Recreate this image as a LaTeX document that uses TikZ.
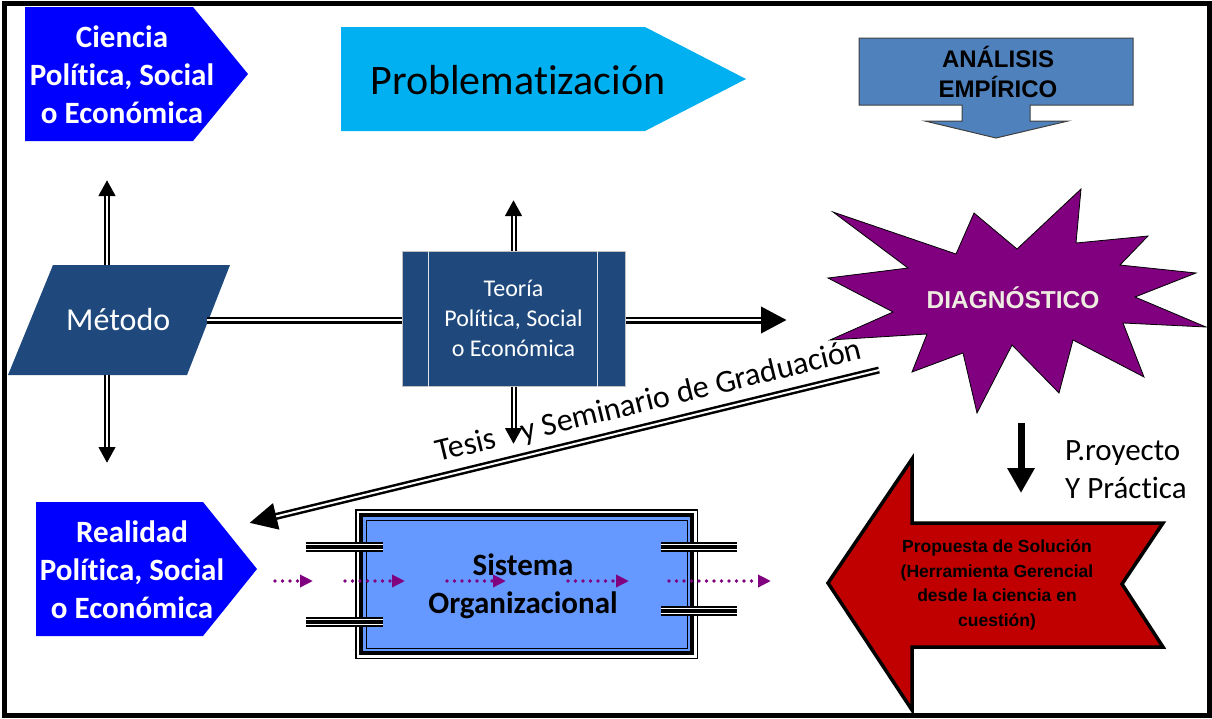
\documentclass[tikz,border=0pt]{standalone}
\usepackage{fontspec}
\setmainfont{Carlito}[Ligatures=NoCommon]
\newfontfamily\arialf{Liberation Sans}
\usetikzlibrary{arrows.meta,calc}

\definecolor{sciblue}{HTML}{0000FF}
\definecolor{probblue}{HTML}{00B0F0}
\definecolor{empblue}{HTML}{4F81BD}
\definecolor{navy}{HTML}{1F497D}
\definecolor{diagpurple}{HTML}{800080}
\definecolor{diagtext}{HTML}{EEECE1}
\definecolor{solred}{HTML}{C00000}
\definecolor{orgblue}{HTML}{6699FF}

\tikzset{
  txt/.style={inner sep=0pt, align=center},
  dblarrow/.style n args={4}{draw=black, line width=#1,
    -{Triangle[length=#3,width=#4]},
    postaction={draw=white, line width=#2, -, shorten >=#3}},
  dblline/.style={draw=black, line width=7pt, postaction={draw=white, line width=2pt}},
  pipe/.style={draw=black, line width=10pt,
    postaction={draw=white, line width=6.4pt},
    postaction={draw=black, line width=3.2pt}},
  flow/.style={draw=diagpurple, line width=3.8pt, line cap=round,
    dash pattern=on 0pt off 7.5pt,
    -{Triangle[length=13pt,width=12pt,fill=diagpurple]}},
}

\begin{document}
\begin{tikzpicture}[x=1pt,y=-1pt]
\useasboundingbox (0,0) rectangle (1212,718);

% outer frame
\draw[line width=4.5pt] (4.5,3.5) rectangle (1209.5,715.5);

% ---- shapes ----
% Ciencia (pentagon)
\fill[sciblue] (25,7) -- (193,7) -- (248,74) -- (193,141) -- (25,141) -- cycle;
% Problematizacion
\fill[probblue] (341,27) -- (645,27) -- (746,79) -- (645,131) -- (341,131) -- cycle;
% Analisis empirico (down arrow callout)
\filldraw[fill=empblue, draw=black!75, line width=1pt]
  (859,38) -- (1133,38) -- (1133,105) -- (1030,105) -- (1030,121) -- (1068,121)
  -- (996,138) -- (925,121) -- (962,121) -- (962,105) -- (859,105) -- cycle;
% Metodo (parallelogram)
\fill[navy] (53,265) -- (230,265) -- (187,375) -- (8,375) -- cycle;
% Teoria (predefined process box)
\node[draw=black!25, line width=1pt, fill=navy, minimum width=223pt, minimum height=135pt, inner sep=0pt]
  (teoria) at (513.5,318.5) {};
\draw[white!85!navy, line width=1pt] ($(teoria.north west)+(27,0)$) -- ($(teoria.south west)+(27,0)$);
\draw[white!85!navy, line width=1pt] ($(teoria.north east)+(-28,0)$) -- ($(teoria.south east)+(-28,0)$);
% Diagnostico (star burst)
\filldraw[fill=diagpurple, draw=black, line width=0.8pt]
  (833,212) -- (956,254) -- (974,213) -- (1017,249) -- (1081,189) -- (1076,243)
  -- (1148,236) -- (1120,265) -- (1196,273) -- (1135,297) -- (1206,327) -- (1123,323)
  -- (1144,377) -- (1073,340) -- (1059,393) -- (1012,345) -- (977,413) -- (963,353)
  -- (912,372) -- (927,334) -- (830,340) -- (893,312) -- (828,278) -- (908,268) -- cycle;
% Realidad (pentagon)
\fill[sciblue] (36,502) -- (203,502) -- (257,569) -- (203,636) -- (36,636) -- cycle;
% Propuesta de solucion (left arrow)
\filldraw[fill=solred, draw=black, line width=3.5pt, line join=miter]
  (828,583) -- (912,459) -- (912,523) -- (1163,523) -- (1122,584) -- (1163,647)
  -- (912,647) -- (912,710) -- cycle;
% Sistema organizacional (framed box)
\draw[line width=1.5pt] (355.75,509.75) rectangle (697.25,658.25);
\fill[orgblue] (359,513) rectangle (694,655);
\draw[line width=4pt] (361,515) rectangle (692,653);
\draw[line width=1pt] (366,520) rectangle (687,648);

% ---- text nodes ----
\node[txt, text=white, font=\bfseries\fontsize{31}{38}\selectfont] (ciencia) at (122,75)
  {Ciencia\\Política, Social\\o Económica};
\node[txt, font=\fontsize{42}{50}\selectfont] (probl) at (518,80) {Problematización};
\node[txt, font=\arialf\bfseries\fontsize{24}{30}\selectfont] (analisis) at (998,72)
  {ANÁLISIS\\EMPÍRICO};
\node[txt, minimum width=177pt, minimum height=110pt, text=white,
  font=\fontsize{32}{38}\selectfont] (metodo) at (118.2,320) {Método};
\node[txt, text=white, font=\fontsize{24}{30}\selectfont] (teoriaText) at (teoria)
  {Teoría\\Política, Social\\o Económica};
\node[txt, text=diagtext, font=\arialf\bfseries\fontsize{24.5}{28}\selectfont] (diag) at (1013,298)
  {DIAGNÓSTICO};
\node[txt, text=white, font=\bfseries\fontsize{31}{38}\selectfont] (realidad) at (132,570)
  {Realidad\\Política, Social\\o Económica};
\node[txt, font=\arialf\bfseries\fontsize{17.5}{24.5}\selectfont] (propuesta) at (997,585)
  {Propuesta de Solución\\(Herramienta Gerencial\\desde la ciencia en\\cuestión)};
\node[txt, font=\bfseries\fontsize{31}{38}\selectfont] (sistema) at (523,586)
  {Sistema\\Organizacional};
\node[inner sep=0pt, anchor=base west, font=\fontsize{31}{38}\selectfont] (proyA) at (1065,460) {P.royecto};
\node[inner sep=0pt, anchor=base west, font=\fontsize{31}{38}\selectfont] (proyB) at (1065,498) {Y Práctica};
\node[inner sep=0pt, anchor=base west, rotate=13.65, font=\fontsize{32}{38}\selectfont] (tesis)
  at (438,462) {Tesis\hspace{27pt}y Seminario de Graduación};

% ---- free connector ends ----
\coordinate (metodoUp) at (107,180);
\coordinate (metodoDown) at (107,463);
\coordinate (teoriaUp) at (513.5,200);
\coordinate (teoriaDown) at (513.5,444);
\coordinate (teoriaRight) at (787,320);
\coordinate (tesisFrom) at (879,370);
\coordinate (tesisTo) at (249,523);
\coordinate (proyFrom) at (1021,423);
\coordinate (proyTo) at (1021,493);

% ---- connectors ----
\draw[dblarrow={6pt}{2pt}{16pt}{16pt}] (metodoUp |- metodo.north) -- (metodoUp);
\draw[dblarrow={6pt}{2pt}{16pt}{16pt}] (metodoDown |- metodo.south) -- (metodoDown);
\draw[dblline] (metodo.east) -- (metodo.east -| teoria.west);
\draw[dblarrow={7pt}{2pt}{26pt}{25pt}] (teoria.east |- metodo.east) -- (teoriaRight);
\draw[dblarrow={6pt}{2pt}{16pt}{16pt}] (teoria.north) -- (teoriaUp);
\draw[dblarrow={6pt}{2pt}{16pt}{16pt}] (teoria.south) -- (teoriaDown);
\draw[dblarrow={7pt}{2pt}{28pt}{25pt}] (tesisFrom) -- (tesisTo);
\draw[line width=7pt, -{Triangle[length=25pt,width=26pt]}] (proyFrom) -- (proyTo);

% ---- pipes through the organisation box ----
\draw[pipe] (306,547) -- (383,547);
\draw[pipe] (306,622) -- (383,622);
\draw[pipe] (661,547) -- (737,547);
\draw[pipe] (661,611) -- (737,611);

% ---- dotted flow arrows ----
\coordinate (f1a) at (275,581); \coordinate (f1b) at (313,581);
\coordinate (f2a) at (345,581); \coordinate (f2b) at (405,581);
\coordinate (f3a) at (447,581); \coordinate (f3b) at (506,581);
\coordinate (f4a) at (568,581); \coordinate (f4b) at (629,581);
\coordinate (f5a) at (669,581); \coordinate (f5b) at (771,581);
\draw[flow] (f1a) -- (f1b);
\draw[flow] (f2a) -- (f2b);
\draw[flow] (f3a) -- (f3b);
\draw[flow] (f4a) -- (f4b);
\draw[flow] (f5a) -- (f5b);
\end{tikzpicture}
\end{document}
